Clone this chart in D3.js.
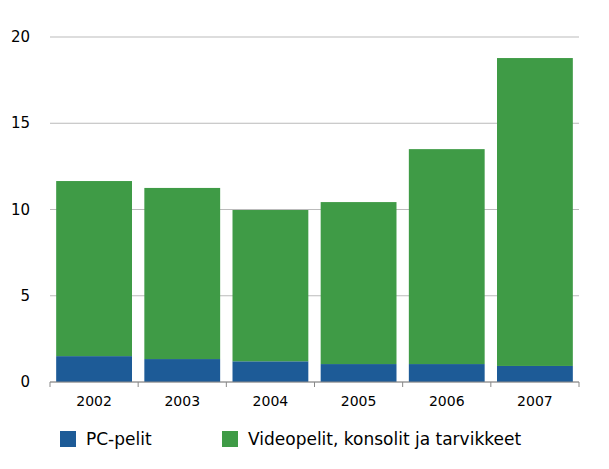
<!DOCTYPE html>
<html><head><meta charset="utf-8">
<script src="https://cdn.jsdelivr.net/npm/d3@7"></script>
<style>body{margin:0;background:#fff}text{font-family:"Lucida Grande","DejaVu Sans",sans-serif}</style>
</head><body><div id="container"></div>
<script>
var years = ['2002','2003','2004','2005','2006','2007'],
    pc = [1.5, 1.33, 1.2, 1.04, 1.04, 0.93],
    video = [10.15, 9.92, 8.77, 9.39, 12.46, 17.85],
    yTicks = [0, 5, 10, 15, 20],
    seriesNames = ['PC-pelit', 'Videopelit, konsolit ja tarvikkeet'],
    colors = ['#1d5b97', '#3f9b46'];

var w = 609, h = 469,
    margin = {top: 37, right: 30, bottom: 87, left: 50};

var svg = d3.select('#container').append('svg')
    .attr('width', w).attr('height', h);

var xScale = d3.scaleBand().domain(years)
    .range([margin.left, w - margin.right]).paddingInner(0.14).paddingOuter(0.07);
var yScale = d3.scaleLinear().domain([0, 20])
    .range([h - margin.bottom, margin.top]);

// gridlines + labels
svg.selectAll('.grid').data(yTicks).enter().append('line')
    .attr('x1', margin.left).attr('x2', w - margin.right)
    .attr('y1', d => yScale(d)).attr('y2', d => yScale(d))
    .style('stroke', '#bbb').style('stroke-width', 1);
svg.selectAll('.ylab').data(yTicks).enter().append('text')
    .attr('x', 30).attr('y', d => yScale(d) + 5)
    .attr('text-anchor', 'end').style('font-size', '15px').text(d => d);

var data = years.map((y, i) => ({year: y, pc: pc[i], video: video[i]}));
var stacked = d3.stack().keys(['pc', 'video'])(data);

svg.selectAll('g.layer').data(stacked).enter().append('g')
    .style('fill', (d, i) => colors[i])
  .selectAll('rect').data(d => d).enter().append('rect')
    .attr('x', d => xScale(d.data.year))
    .attr('width', xScale.bandwidth())
    .attr('y', d => yScale(d[1]))
    .attr('height', d => yScale(d[0]) - yScale(d[1]));

// x axis
svg.append('line').attr('x1', margin.left).attr('x2', w - margin.right)
    .attr('y1', yScale(0)).attr('y2', yScale(0)).style('stroke', '#888');
svg.selectAll('.tick').data(years.concat(['end'])).enter().append('line')
    .attr('x1', (d, i) => i < years.length ? xScale(d) - xScale.step() * 0.07 : w - margin.right)
    .attr('x2', (d, i) => i < years.length ? xScale(d) - xScale.step() * 0.07 : w - margin.right)
    .attr('y1', yScale(0)).attr('y2', yScale(0) + 5).style('stroke', '#888');
svg.selectAll('.xlab').data(years).enter().append('text')
    .attr('x', d => xScale(d) + xScale.bandwidth() / 2).attr('y', yScale(0) + 24)
    .attr('text-anchor', 'middle').style('font-size', '14px').text(d => d);

// legend
var lx = [60, 222];
seriesNames.forEach(function(n, i) {
    svg.append('rect').attr('x', lx[i]).attr('y', 431).attr('width', 16).attr('height', 16).style('fill', colors[i]);
    svg.append('text').attr('x', lx[i] + 26).attr('y', 445).style('font-size', '17px').text(n);
});
</script></body></html>
